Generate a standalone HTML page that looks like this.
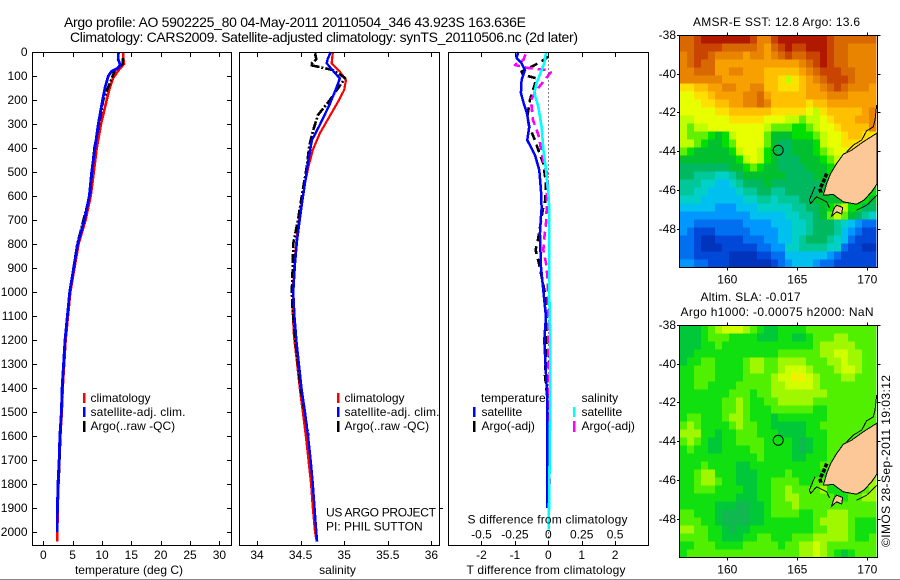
<!DOCTYPE html>
<html>
<head>
<meta charset="utf-8">
<title>Argo profile</title>
<style>
html,body{margin:0;padding:0;background:#fff;width:900px;height:580px;overflow:hidden}
svg{display:block}
text{font-family:"Liberation Sans",sans-serif;font-size:12px;fill:#000}
</style>
</head>
<body>
<svg id="fig" xmlns="http://www.w3.org/2000/svg" width="900" height="580" viewBox="0 0 900 580">
<defs>
<clipPath id="clipSst"><rect x="680" y="35.5" width="197" height="232"/></clipPath>
<clipPath id="clipSla"><rect x="680" y="325.5" width="197" height="232"/></clipPath>
</defs>
<rect x="0" y="0" width="900" height="580" fill="#fff"/>
<g id="marks"></g>
<g fill="none" stroke="#000" stroke-width="1">
<rect x="32.5" y="52.5" width="199" height="493"/>
<rect x="239.5" y="52.5" width="200" height="493"/>
<rect x="448.5" y="52.5" width="200" height="493"/>
<rect x="679.5" y="35.5" width="198" height="232"/>
<rect x="679.5" y="325.5" width="198" height="232"/>
</g>
<g id="ticks"></g>
<text x="64" y="27" font-size="14" style="font-size:14px" textLength="462" lengthAdjust="spacing">Argo profile: AO 5902225_80 04-May-2011 20110504_346 43.923S 163.636E</text>
<text x="70" y="42" style="font-size:14px" textLength="508" lengthAdjust="spacing">Climatology: CARS2009. Satellite-adjusted climatology: synTS_20110506.nc (2d later)</text>
<text x="129" y="574" text-anchor="middle">temperature (deg C)</text>
<text x="337.5" y="574" text-anchor="middle">salinity</text>
<text x="466.5" y="574" textLength="159" lengthAdjust="spacing">T difference from climatology</text>
<text x="467.5" y="523.5" textLength="160" lengthAdjust="spacing">S difference from climatology</text>
<g>
<rect x="83" y="393" width="2.5" height="10" fill="#f00"/>
<text x="90.5" y="402">climatology</text>
<rect x="83" y="407" width="2.5" height="10" fill="#00f"/>
<text x="90.5" y="416" textLength="95" lengthAdjust="spacing">satellite-adj. clim.</text>
<rect x="83" y="421" width="2.5" height="11" fill="#000"/>
<text x="90.5" y="430">Argo(..raw -QC)</text>
</g>
<g>
<rect x="337" y="393" width="2.5" height="10" fill="#f00"/>
<text x="344.5" y="402">climatology</text>
<rect x="337" y="407" width="2.5" height="10" fill="#00f"/>
<text x="344.5" y="416" textLength="95" lengthAdjust="spacing">satellite-adj. clim.</text>
<rect x="337" y="421" width="2.5" height="11" fill="#000"/>
<text x="344.5" y="430">Argo(..raw -QC)</text>
</g>
<text x="326" y="516.5" textLength="110" lengthAdjust="spacing">US ARGO PROJECT</text>
<text x="326" y="530.5">PI: PHIL SUTTON</text>
<line x1="439" x2="443" y1="508.5" y2="508.5" stroke="#000"/>
<g>
<text x="481" y="402">temperature</text>
<text x="581.5" y="402">salinity</text>
<rect x="473" y="407" width="2.5" height="10" fill="#00f"/>
<text x="481.5" y="416">satellite</text>
<rect x="473" y="421" width="2.5" height="11" fill="#000"/>
<text x="481.5" y="430">Argo(-adj)</text>
<rect x="573" y="407" width="2.5" height="10" fill="#0ff"/>
<text x="581.5" y="416">satellite</text>
<rect x="573" y="421" width="2.5" height="11" fill="#f0f"/>
<text x="581.5" y="430">Argo(-adj)</text>
</g>
<text x="776.5" y="26" text-anchor="middle" textLength="167" lengthAdjust="spacing">AMSR-E SST: 12.8 Argo: 13.6</text>
<text x="750.5" y="301" text-anchor="middle" textLength="100" lengthAdjust="spacing">Altim. SLA: -0.017</text>
<text x="777" y="316" text-anchor="middle" textLength="193" lengthAdjust="spacing">Argo h1000: -0.00075 h2000: NaN</text>
<text transform="translate(890,547) rotate(-90)" textLength="172" lengthAdjust="spacing">©IMOS 28-Sep-2011 19:03:12</text>
<rect x="0" y="579" width="900" height="1" fill="#888"/>
</svg>
<script>
// ---------- profile data ----------
const depthTicks = [0,100,200,300,400,500,600,700,800,900,1000,1100,1200,1300,1400,1500,1600,1700,1800,1900,2000];
const tempTicks = [0,5,10,15,20,25,30];
const salTicks = [34,34.5,35,35.5,36];
const salTickLabels = ['34','34.5','35','35.5','36'];
const tDiffTicks = [-2,-1,0,1,2];
const sDiffTicks = [-0.5,-0.25,0,0.25,0.5];
const sDiffTickLabels = ['-0.5','-0.25','0','0.25','0.5'];

const climTempDepth = [0,30,50,70,108,150,200,300,400,500,600,700,800,1000,1200,1400,1500,1600,1700,1800,1900,2000,2040];
const climTempValue = [13.6,13.65,13.75,13.0,11.9,11.3,10.8,9.83,9.1,8.6,8.07,7.2,6.0,4.6,3.8,3.3,3.15,2.9,2.75,2.58,2.45,2.39,2.35];
const satTempDepth = [0,30,50,65,80,100,150,200,300,400,500,600,700,800,1000,1200,1400,1500,1600,1700,1800,1900,2000];
const satTempValue = [12.8,12.75,13.05,12.9,11.65,11.07,10.5,10.1,9.37,8.8,8.24,7.84,7.0,5.85,4.5,3.7,3.2,3.08,2.82,2.7,2.5,2.4,2.38];
const argoTempDepth = [25,50,75,120,200,300,400,500,600,800,1000,1200,1400,1600,1800];
const argoTempValue = [13.6,13.5,12.2,11.5,10.2,9.5,8.7,8.3,7.9,5.8,4.5,3.7,3.25,2.9,2.6];

const climSalDepth = [0,47,82,117,158,207,276,339,408,478,547,658,755,853,964,1088,1186,1283,1400,1500,1600,1700,1800,1900,2000,2040];
const climSalValue = [34.87,34.856,34.95,35.02,35.0,34.93,34.82,34.72,34.64,34.59,34.55,34.5,34.46,34.436,34.416,34.41,34.424,34.455,34.49,34.525,34.56,34.59,34.62,34.64,34.665,34.685];
const satSalDepth = [0,30,47,88,110,150,221,304,367,450,547,645,783,880,1000,1103,1214,1400,1500,1600,1700,1800,1900,2000,2040];
const satSalValue = [34.845,34.81,34.8,34.895,34.95,34.91,34.83,34.72,34.63,34.59,34.55,34.51,34.46,34.436,34.416,34.43,34.455,34.51,34.55,34.585,34.615,34.64,34.66,34.68,34.69];
const argoSalDepth = [5,30,54,63,75,108,130,208,262,325,390,480,587,700,797,895,992,1060,1200,1400,1600];
const argoSalValue = [34.665,34.68,34.61,34.72,34.87,35.01,34.97,34.82,34.7,34.645,34.6,34.57,34.52,34.47,34.416,34.41,34.4,34.405,34.44,34.5,34.59];

const satTDiffDepth = [0,25,47,75,117,171,207,255,311,367,429,492,575,650,686,755,895,992,1103,1200,1283,1394,1450,1717,1900];
const satTDiffValue = [-0.9,-0.95,-0.8,-0.7,-0.8,-0.82,-0.75,-0.64,-0.57,-0.63,-0.4,-0.27,-0.22,-0.2,-0.22,-0.25,-0.22,-0.15,-0.07,-0.12,-0.09,-0.05,-0.03,-0.03,-0.03];
const argoTDiffDepth = [20,47,82,95,110,200,270,311,367,408,464,547,630,645,775,825,880,936,1005,1075,1170,1228,1346,1440];
const argoTDiffValue = [0,-0.3,-0.8,-0.75,-0.35,-0.55,-0.63,-0.57,-0.4,-0.3,-0.15,-0.07,-0.1,-0.15,-0.3,-0.38,-0.28,-0.2,-0.1,-0.05,-0.05,-0.05,-0.1,-0.03];
const satSDiffDepth = [0,47,130,171,228,311,408,492,587,650,1000,1200,1450,1700,1990];
const satSDiffValue = [-0.017,-0.03,-0.088,-0.105,-0.075,-0.05,-0.037,-0.017,0,0.007,0.007,0.015,0.015,0.01,0.003];
const argoSDiffDepth = [10,33,54,67,75,85,150,171,200,283,325,358,408,471,519,587,650,714,783,825,895,960,1200,1500,1800];
const argoSDiffValue = [-0.17,-0.187,-0.25,-0.15,-0.012,0.018,-0.075,-0.1,-0.13,-0.115,-0.087,-0.067,-0.055,-0.03,0,-0.012,-0.012,-0.017,-0.032,-0.037,-0.012,-0.005,0,0.005,0.012];

// ---------- map data (palette levels, north to south, west to east) ----------
const mapLonTicks = [160,165,170];
const mapLatTicks = [-38,-40,-42,-44,-46,-48];
const floatLon = 163.636;
const floatLat = -43.923;
const gridLonStart = 156.62;
const gridLonStep = 0.5;
const gridLatStart = -38;
const gridLatStep = 0.413;
const sstColours = ['#0034bc','#0048d8','#0070f0','#0098ff','#00c0f0','#00d0c8','#00c898','#00b860','#00c030','#00e000','#60f000','#c0ff00','#e8ff00','#ffe000','#ffc000','#f8a000','#e88400','#d86800','#c84400','#b01800'];
const slaColours = ['#00b860','#00b860','#00b860','#00b860','#00b860','#00b860','#00b860','#10b850','#00c838','#10e010','#50f000','#a0f800','#d0ff00','#f0f000'];

const sstLevels = [
[17,17,18,19,19,19,19,19,19,19,18,16,16,18,19,19,19,19,19,19,19,18,17,17,17,17,17,17],
[17,17,18,18,18,18,17,17,17,17,17,16,15,17,18,19,18,18,19,19,19,18,17,17,16,16,16,16],
[16,17,18,18,17,16,16,16,16,15,16,16,15,16,17,18,17,17,18,18,19,18,17,17,16,16,16,16],
[16,17,18,17,17,15,15,15,15,15,15,15,15,15,15,15,15,16,17,18,19,18,17,17,16,16,16,16],
[16,16,17,17,17,15,15,16,16,15,15,15,14,14,14,14,14,15,16,17,18,18,18,17,17,16,16,16],
[16,16,16,16,16,16,15,15,15,15,15,15,14,14,13,11,13,14,15,16,17,18,18,18,17,16,16,16],
[13,13,14,14,15,15,16,16,15,15,16,16,14,14,13,13,13,14,15,15,16,17,18,17,16,16,16,15],
[12,12,13,13,14,15,15,15,15,16,16,17,15,14,14,14,14,14,15,15,15,16,16,16,15,15,15,15],
[12,12,12,13,13,14,14,15,15,16,16,17,16,14,14,14,14,14,13,14,14,15,15,15,15,15,15,15],
[12,12,12,12,12,13,13,14,14,14,14,14,14,13,13,13,13,13,12,11,13,14,14,14,14,14,15,16],
[11,11,12,12,12,12,12,13,13,13,13,13,12,12,12,11,11,10,11,11,12,13,14,14,14,15,15,16],
[11,10,11,11,12,12,12,12,12,12,12,12,11,10,10,10,9,9,10,11,12,12,13,14,14,14,14,16],
[11,10,10,10,9,8,9,11,12,12,12,12,10,8,8,8,9,9,9,10,11,12,12,13,14,14,13,13],
[11,11,10,9,8,8,9,10,12,12,12,12,10,8,7,7,8,8,8,9,11,12,12,13,13,13,13,13],
[10,9,8,8,8,8,8,9,11,12,12,11,9,8,7,7,8,8,8,9,10,11,12,12,13,13,13,13],
[8,8,8,8,8,8,8,8,9,11,12,11,9,8,7,7,7,8,8,8,9,10,11,12,13,13,13,13],
[7,7,7,7,7,7,7,8,8,9,10,9,8,8,7,7,7,7,8,8,8,9,10,11,13,13,13,13],
[7,7,6,6,6,5,5,6,7,8,8,8,8,8,8,7,7,7,7,8,8,9,10,10,10,10,10,10],
[6,6,6,5,5,4,4,5,6,7,7,7,8,7,7,7,7,7,7,7,8,9,9,9,9,9,9,9],
[6,6,5,5,4,4,4,4,5,6,6,7,7,6,6,7,7,7,7,7,8,9,8,9,9,9,9,9],
[5,5,5,4,4,4,4,4,4,5,5,6,6,5,6,6,6,7,7,8,8,8,8,8,8,9,9,8],
[4,4,4,4,4,3,3,3,4,4,4,5,5,5,5,5,6,6,7,7,8,9,10,11,9,9,7,7],
[3,3,3,3,3,3,3,3,3,3,4,4,4,4,4,5,5,6,6,7,8,10,11,10,8,7,6,5],
[3,3,2,2,2,2,2,2,2,3,3,3,3,4,4,4,5,5,6,7,7,7,6,5,4,3,2,2],
[3,2,1,1,1,2,2,2,2,2,3,3,3,3,4,4,5,5,6,7,7,7,6,4,3,2,1,1],
[2,2,1,0,0,1,1,1,1,2,2,2,3,3,4,4,5,6,7,7,7,6,5,4,2,1,1,1],
[2,2,1,0,0,0,1,1,1,1,1,2,2,3,3,5,5,6,6,6,6,5,5,2,1,1,0,0],
[2,2,1,1,1,1,1,0,0,0,0,1,1,2,2,4,4,4,4,4,4,3,2,1,1,1,1,1],
[3,3,2,2,1,1,1,0,0,0,0,0,0,1,2,3,4,4,4,3,2,2,1,1,1,1,1,1]
];

const slaLevels = [
[8,8,8,9,10,11,12,12,12,11,10,9,8,8,9,9,9,9,10,10,10,10,10,10,10,10,10,10],
[8,8,8,9,10,10,10,9,9,9,9,8,8,8,9,9,8,8,9,10,10,10,11,11,10,10,10,10],
[8,8,8,9,9,10,9,9,9,9,9,9,9,9,9,9,9,9,9,10,11,11,11,11,11,10,10,10],
[8,8,9,9,9,9,9,9,9,9,9,9,9,9,10,10,10,10,10,10,11,11,12,12,11,11,10,10],
[8,9,9,10,10,9,9,9,9,10,11,11,10,10,11,11,11,11,10,10,10,11,11,12,11,11,10,10],
[9,9,10,10,10,9,9,9,9,10,11,11,10,10,11,12,12,12,11,10,10,10,11,12,12,11,10,10],
[9,9,10,10,10,9,9,9,9,10,10,10,10,11,12,12,13,13,12,11,10,10,10,11,11,10,10,10],
[9,9,10,10,9,9,9,9,10,10,10,10,10,11,11,12,12,12,12,11,10,10,10,10,10,10,10,10],
[9,9,9,9,9,9,9,10,10,10,9,10,10,11,11,11,11,11,11,11,11,10,10,10,10,10,10,10],
[9,9,9,9,9,9,10,10,11,10,9,9,10,10,11,11,11,11,11,10,10,10,10,10,10,10,10,10],
[9,9,9,9,9,9,10,10,11,10,9,9,9,10,10,10,10,10,10,9,9,10,10,10,10,10,10,10],
[9,10,10,9,9,9,10,11,11,10,9,9,9,8,9,9,9,9,9,9,9,10,10,10,10,10,10,10],
[10,11,10,9,9,9,9,10,11,10,10,9,9,8,8,8,8,8,9,9,10,10,10,10,10,10,10,10],
[11,11,11,9,9,8,9,9,10,10,10,9,9,9,8,8,8,8,9,9,9,10,10,10,10,10,10,10],
[10,11,10,9,8,8,9,9,10,10,10,10,9,9,9,9,8,7,8,9,9,10,10,10,10,10,10,10],
[9,10,9,9,8,8,9,9,9,9,10,10,9,9,9,9,8,7,8,9,9,10,10,10,10,10,10,10],
[9,9,9,9,9,9,9,9,9,9,9,10,9,9,9,9,8,8,9,9,9,10,10,10,10,10,10,10],
[9,9,9,10,9,9,9,9,8,8,9,9,9,9,9,9,9,9,9,9,10,10,10,10,10,10,10,10],
[9,9,10,11,11,9,9,9,8,8,8,9,9,9,9,10,9,9,9,9,9,10,10,10,10,10,10,10],
[9,9,10,11,11,10,9,9,8,8,8,9,9,10,10,10,10,9,9,10,10,10,9,9,10,10,11,11],
[9,9,10,10,10,9,9,9,9,8,8,9,9,10,10,11,10,10,10,10,11,9,9,9,8,9,10,11],
[9,9,9,9,9,9,9,9,8,8,8,9,9,10,10,11,11,10,10,10,10,10,9,9,10,10,11,11],
[9,9,9,9,9,8,8,8,7,7,8,8,9,10,10,10,11,10,10,10,10,10,10,10,10,10,10,10],
[10,10,9,9,9,8,7,7,7,7,8,8,9,10,10,10,10,9,9,10,10,11,11,11,10,10,10,10],
[10,10,10,9,9,8,7,7,7,7,8,8,9,9,9,9,9,9,9,10,11,11,11,11,10,9,9,9],
[11,11,10,10,9,9,8,7,8,8,9,9,9,9,9,9,9,9,9,10,10,11,11,11,10,9,9,9],
[10,10,10,10,9,9,8,8,8,9,9,10,10,9,9,9,10,10,10,11,11,11,11,11,10,9,9,10],
[9,9,10,10,10,9,9,9,9,10,10,10,10,10,9,10,10,11,11,12,11,10,10,10,10,10,10,10],
[9,10,10,10,10,10,10,10,10,10,10,10,10,10,10,10,10,11,11,12,11,10,9,8,9,10,10,10]
];

// coastline, [lon, lat]
const southIslandLand = [[170.71,-43.03],[169.71,-43.49],[168.88,-43.92],[168.29,-44.13],[167.81,-44.61],[167.38,-45.13],[167.1,-45.64],[166.86,-46.24],[167.57,-46.21],[168.29,-46.59],[169.24,-46.71],[169.76,-46.5],[170.31,-46.07],[170.71,-45.64]];
const stewartIslandLand = [[167.45,-47.33],[167.62,-46.93],[167.81,-46.76],[168.24,-46.88],[168.17,-47.22],[167.81,-47.1]];
const westCoastLine = [[170.67,-41.6],[170.55,-42.37],[170.43,-42.72],[169.95,-42.92],[169.6,-43.4],[169,-43.66],[168.52,-44]];
const fiordCoastLine = [[166.26,-45.81],[165.86,-46.5],[165.95,-46.67],[166.38,-46.33],[167.1,-46.59],[167.3,-46.9]];
const eastCoastLine = [[169.24,-47.02],[169.95,-46.76],[170.43,-46.42],[170.71,-46.24]];
const fiordIslands = [[167.1,-45.13],[166.86,-45.56],[166.62,-45.9],[166.69,-46.16]];

// ---------- axis functions ----------
function yDepth(d){ return 52 + 0.24 * d; }
function xTemp(t){ return 43.3 + 5.87 * t; }
function xSal(s){ return 257 + 87.2 * (s - 34); }
function xTDiff(t){ return 548.3 + 33.4 * t; }
function xSDiff(s){ return 548.3 + 133.6 * s; }
function lonX(lon){ return 727.3 + 14 * (lon - 160); }
function latY(lat, top){ return top + 19.37 * (-38 - lat); }

const SVGNS = 'http://www.w3.org/2000/svg';
const marks = document.getElementById('marks');
const ticks = document.getElementById('ticks');
function el(tag, attrs, parent){
  const n = document.createElementNS(SVGNS, tag);
  for (const k in attrs) n.setAttribute(k, attrs[k]);
  parent.appendChild(n);
  return n;
}

// ---------- heatmaps ----------
function drawMap(levels, colours, top, clipId, cellName){
  const g = el('g', {'clip-path':'url(#'+clipId+')'}, marks);
  
  
  levels.forEach(function(row, r){
    row.forEach(function(v, c){
      const x0 = lonX(gridLonStart + c * gridLonStep);
      const x1 = lonX(gridLonStart + (c + 1) * gridLonStep);
      const y0 = latY(gridLatStart - r * gridLatStep, top);
      const y1 = latY(gridLatStart - (r + 1) * gridLatStep, top);
      const cell = el('rect', {x:x0, y:y0, width:x1 - x0 + 0.3, height:y1 - y0 + 0.3, fill:colours[v], 'shape-rendering':'crispEdges'}, g);
      
      
    });
  });
  const pts = function(a){ return a.map(function(p){ return lonX(p[0]) + ',' + latY(p[1], top); }).join(' '); };
  const land = el('polygon', {points:pts(southIslandLand), fill:'#fdc898', stroke:'#000', 'stroke-width':1, 'shape-rendering':'crispEdges'}, g);
  
  
  const stewart = el('polygon', {points:pts(stewartIslandLand), fill:'#fdc898', stroke:'#000', 'stroke-width':1, 'shape-rendering':'crispEdges'}, g);
  
  
  const west = el('polyline', {points:pts(westCoastLine), fill:'none', stroke:'#000', 'stroke-width':1, 'shape-rendering':'crispEdges'}, g);
  
  
  const fiord = el('polyline', {points:pts(fiordCoastLine), fill:'none', stroke:'#000', 'stroke-width':1, 'shape-rendering':'crispEdges'}, g);
  
  
  const east = el('polyline', {points:pts(eastCoastLine), fill:'none', stroke:'#000', 'stroke-width':1, 'shape-rendering':'crispEdges'}, g);
  
  
  const isles = el('polyline', {points:pts(fiordIslands), fill:'none', stroke:'#000', 'stroke-width':3.5, 'stroke-dasharray':'4 1.5', 'shape-rendering':'crispEdges'}, g);
  
  
  const dot = el('circle', {cx:lonX(floatLon), cy:latY(floatLat, top), r:5, fill:'none', stroke:'#000', 'stroke-width':1}, g);
  
  
}
drawMap(sstLevels, sstColours, 35.5, 'clipSst', 'sst');
drawMap(slaLevels, slaColours, 325.5, 'clipSla', 'sla');

// ---------- zero line ----------
const zeroLine = el('line', {x1:548.5, x2:548.5, y1:52.5, y2:545, stroke:'#000', 'stroke-width':1, 'stroke-dasharray':'1 3', 'shape-rendering':'crispEdges'}, marks);



// ---------- profiles ----------
function drawLine(xFn, values, depths, colour, width, dash, name){
  const p = values.map(function(v, i){ return xFn(v) + ',' + yDepth(depths[i]); }).join(' ');
  const line = el('polyline', {points:p, fill:'none', stroke:colour, 'stroke-width':width, 'stroke-linejoin':'round', 'shape-rendering':'crispEdges'}, marks);
  if (dash) line.setAttribute('stroke-dasharray', dash);
  
  
}
const DASHDOT = '9 2 2 2';
drawLine(xTemp, climTempValue, climTempDepth, '#f00', 2.6, null, 'temperature-climatology-line');
drawLine(xTemp, argoTempValue, argoTempDepth, '#000', 2.6, DASHDOT, 'temperature-argo-line');
drawLine(xTemp, satTempValue, satTempDepth, '#00f', 2.8, null, 'temperature-satellite-line');
drawLine(xSal, climSalValue, climSalDepth, '#f00', 2.2, null, 'salinity-climatology-line');
drawLine(xSal, argoSalValue, argoSalDepth, '#000', 2.6, DASHDOT, 'salinity-argo-line');
drawLine(xSal, satSalValue, satSalDepth, '#00f', 2.4, null, 'salinity-satellite-line');
drawLine(xTDiff, argoTDiffValue, argoTDiffDepth, '#000', 2.6, '8 5', 'difference-t-argo-line');
drawLine(xSDiff, argoSDiffValue, argoSDiffDepth, '#f0f', 2.6, '8 5', 'difference-s-argo-line');
drawLine(xTDiff, satTDiffValue, satTDiffDepth, '#00f', 2.5, null, 'difference-t-satellite-line');
drawLine(xSDiff, satSDiffValue, satSDiffDepth, '#0ff', 2.6, null, 'difference-s-satellite-line');

// ---------- ticks & labels ----------
function tick(x1, y1, x2, y2, name){
  const t = el('line', {x1:x1, y1:y1, x2:x2, y2:y2, stroke:'#000', 'stroke-width':1}, ticks);
  
  
}
function label(x, y, str, anchor, name){
  const t = el('text', {x:x, y:y, 'text-anchor':anchor}, ticks);
  t.textContent = str;
  
  
}
depthTicks.forEach(function(d){
  const y = Math.round(yDepth(d)) + 0.5;
  tick(32.5, y, 37, y, 'depth-tick');
  tick(227, y, 231.5, y, 'depth-tick');
  label(27.5, y + 3.5, String(d), 'end', 'depth-tick-label');
});
tempTicks.forEach(function(v){
  const x = Math.round(xTemp(v)) + 0.5;
  tick(x, 52.5, x, 57, 'temperature-tick');
  tick(x, 541, x, 545.5, 'temperature-tick');
  label(xTemp(v), 559, String(v), 'middle', 'temperature-tick-label');
});
salTicks.forEach(function(v, i){
  const x = Math.round(xSal(v)) + 0.5;
  tick(x, 52.5, x, 57, 'salinity-tick');
  tick(x, 541, x, 545.5, 'salinity-tick');
  label(xSal(v), 559, salTickLabels[i], 'middle', 'salinity-tick-label');
});
tDiffTicks.forEach(function(v){
  const x = Math.round(xTDiff(v)) + 0.5;
  tick(x, 52.5, x, 57, 'difference-tick');
  tick(x, 541, x, 545.5, 'difference-tick');
  label(xTDiff(v), 559, String(v), 'middle', 't-difference-tick-label');
});
sDiffTicks.forEach(function(v, i){
  label(xSDiff(v), 538.5, sDiffTickLabels[i], 'middle', 's-difference-tick-label');
});
[[35.5, 267.5], [325.5, 557.5]].forEach(function(b){
  mapLonTicks.forEach(function(v){
    const x = Math.round(lonX(v)) + 0.5;
    tick(x, b[0] - 3, x, b[0], 'map-lon-tick');
    tick(x, b[1], x, b[1] + 3, 'map-lon-tick');
    label(lonX(v), b[1] + 16, String(v), 'middle', 'map-lon-label');
  });
  mapLatTicks.forEach(function(v){
    const y = Math.floor(latY(v, b[0])) + 0.5;
    tick(677, y, 680, y, 'map-lat-tick');
    tick(877.5, y, 880.5, y, 'map-lat-tick');
    label(676, y + 3.5, String(v), 'end', 'map-lat-label');
  });
});
</script>
</body>
</html>
